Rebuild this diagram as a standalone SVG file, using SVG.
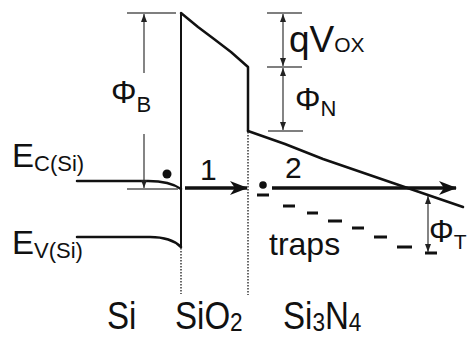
<svg xmlns="http://www.w3.org/2000/svg" width="468" height="338" viewBox="0 0 468 338">
<style>
.t{font-family:"Liberation Sans",Arial,sans-serif;fill:#111}
.band{fill:none;stroke:#111;stroke-width:2.5;stroke-linejoin:round;stroke-linecap:round}
.wall{fill:none;stroke:#111;stroke-width:2}
.dot{fill:none;stroke:#444;stroke-width:1.6;stroke-dasharray:1.5,1.5}
.dim{fill:none;stroke:#333;stroke-width:1.2}
.tick{fill:none;stroke:#555;stroke-width:1.4}
.trap{fill:none;stroke:#111;stroke-width:3.2}
.big{fill:none;stroke:#111;stroke-width:3.5}
</style>
<defs>
<marker id="ah" viewBox="0 0 8 6" refX="8" refY="3" markerWidth="8" markerHeight="6" markerUnits="userSpaceOnUse" orient="auto-start-reverse">
<path d="M0,0 L8,3 L0,6 z" fill="#222"/>
</marker>
<marker id="bh" viewBox="0 0 18 14" refX="17" refY="7" markerWidth="18" markerHeight="14" markerUnits="userSpaceOnUse" orient="auto">
<path d="M0,0 L18,7 L0,14 L5,7 z" fill="#111"/>
</marker>
</defs>

<g id="si-bands">
<path class="band" d="M77,181 L148,181 C164,181 174,184 181,189"/>
<path class="band" d="M77,237 L150,237 C165,237 175,241 181,247"/>
</g>
<g id="oxide">
<path class="wall" d="M181,13 L181,247"/>
<path class="dot" d="M181,248 L181,294"/>
<path class="band" d="M181,13 L198,27 L214,39 L231,52 L248,67 L248,131"/>
<path class="dot" d="M248,132 L248,295"/>
</g>
<g id="nitride">
<path class="band" d="M248,131 L285,144 L323,159 L390,182 L463,207"/>
</g>
<g id="traps">
<path class="trap" d="M283,206 L295,206 M307,213 L318,213 M328,221 L342,221 M352,228 L364,228 M374,237 L387,237 M397,247 L412,247 M425,253 L437,253"/>
<text class="t" x="269" y="255" font-size="32">traps</text>
</g>
<g id="electrons">
<circle cx="167" cy="174" r="4.5" fill="#111"/>
<circle cx="263" cy="185" r="3.8" fill="#111"/>
<path d="M257,195 L269,195" stroke="#111" stroke-width="3"/>
</g>
<g id="connectors">
<path class="big" d="M185,188 L247,188" marker-end="url(#bh)"/>
<path class="big" stroke-width="3" d="M272,188 L456,188" marker-end="url(#bh)"/>
<path class="tick" d="M127,13 L176,13 M127,189 L178,189 M267,13 L302,13 M267,67 L302,67 M268,131 L303,131"/>
<path class="dim" d="M144,73 L144,14" marker-end="url(#ah)"/>
<path class="dim" d="M144,134 L144,188" marker-end="url(#ah)"/>
<path class="dim" d="M283,14 L283,66" marker-start="url(#ah)" marker-end="url(#ah)"/>
<path class="dim" d="M283,68 L283,130" marker-start="url(#ah)" marker-end="url(#ah)"/>
<path class="dim" d="M428,196 L428,252" marker-start="url(#ah)" marker-end="url(#ah)"/>
</g>
<g id="labels">
<text class="t" x="12" y="167" font-size="33">E<tspan font-size="22" dy="4">C(Si)</tspan></text>
<text class="t" x="12" y="254" font-size="33">E<tspan font-size="22" dy="4">V(Si)</tspan></text>
<text class="t" x="111" y="103" font-size="32">Φ<tspan font-size="22" dy="9">B</tspan></text>
<text class="t" x="289" y="52" font-size="37">qV<tspan font-size="21">OX</tspan></text>
<text class="t" x="295" y="110" font-size="32">Φ<tspan font-size="22" dy="6">N</tspan></text>
<text class="t" x="429" y="242" font-size="31">Φ<tspan font-size="21" dy="7">T</tspan></text>
<text class="t" x="200" y="180" font-size="30">1</text>
<text class="t" x="285" y="178" font-size="30">2</text>
<text class="t" transform="translate(107,329) scale(0.87,1)" font-size="38">Si</text>
<text class="t" transform="translate(175,329) scale(0.87,1)" font-size="38">SiO<tspan font-size="26" dy="2">2</tspan></text>
<text class="t" transform="translate(283,329) scale(0.87,1)" font-size="38">Si<tspan font-size="26" dy="2">3</tspan><tspan dy="-2">N</tspan><tspan font-size="26" dy="2">4</tspan></text>
</g>
</svg>
